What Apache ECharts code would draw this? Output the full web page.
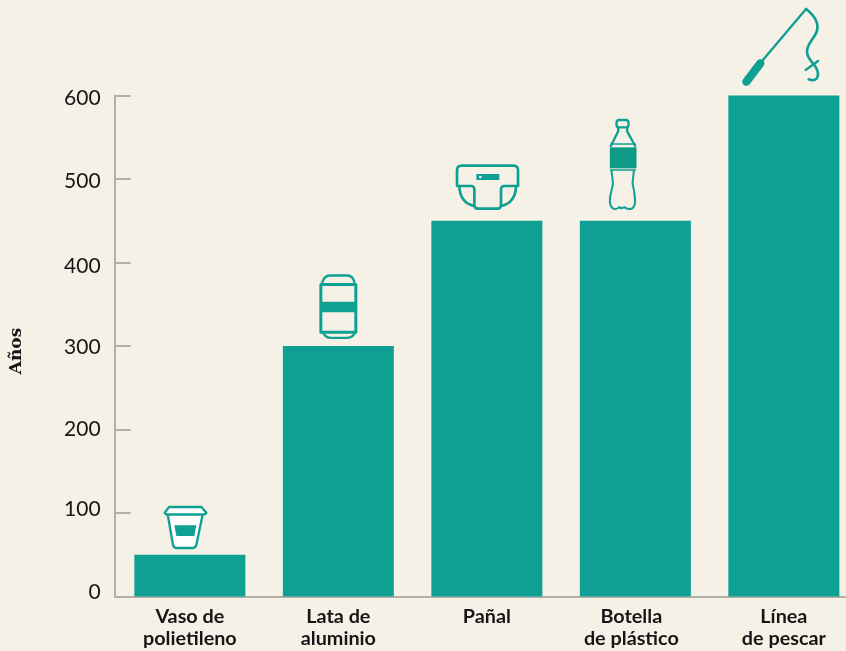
<!DOCTYPE html>
<html>
<head>
<meta charset="utf-8">
<style>html,body{margin:0;padding:0;background:#f5f1e7}#c{width:846px;height:651px}</style>
<script src="https://cdn.jsdelivr.net/npm/echarts@6/dist/echarts.min.js"></script>
</head>
<body>
<div id="c"></div>
<script>
const categories = ['Vaso de\npolietileno', 'Lata de\naluminio', 'Pañal', 'Botella\nde plástico', 'Línea\nde pescar'];
const years = [50, 300, 450, 450, 600];
const yTicks = [0, 100, 200, 300, 400, 500, 600];
// Vertical nudge of each tick number from its tick, in px
const yTickNudge = [-4.7, -3.3, 0, 1.7, 3.7, 2.7, 2.3];

const TEAL = '#0fa094';
const PAPER = '#f5f1e7';
const AXIS = '#b3b0a7';
const INK = '#161616';

// Pictograms sit on top of each bar. Paths are in 3x units; `at` shifts them from the bar-top centre.
function stroked(d, w, fill, cap) {
  return {
    type: 'path',
    shape: { pathData: d },
    style: { fill: fill || 'none', stroke: TEAL, lineWidth: w, lineCap: cap || 'round', lineJoin: 'round' }
  };
}
function filled(d, color) {
  return { type: 'path', shape: { pathData: d }, style: { fill: color || TEAL, stroke: 'none' } };
}

const icons = [
  { // cup
    at: [-59.5, -59.75],
    parts: [
      stroked('M112,58 L128,150 Q130,159 140,159 L186,159 Q196,159 198,150 L217,58 Z', 7, '#ffffff'),
      stroked('M103,53 L116,36 L213,36 L228,53 L224,58 L107,58 Z', 7, '#ffffff'),
      filled('M132,91 L198,91 L192,123 L138,123 Z')
    ]
  },
  { // can
    at: [-38.5, -81.5],
    parts: [
      stroked('M66,58 Q72,33 90,33 L143,33 Q160,33 165,58', 7, null),
      stroked('M70,205 Q78,220 92,220 L143,220 Q158,220 165,205', 7, null),
      stroked('M63,60 L168,60 L168,203 L63,203 Z', 9, null, 'butt'),
      filled('M63,112 L168,112 L168,143 L63,143 Z')
    ]
  },
  { // diaper
    at: [-46.5, -110.75],
    parts: [
      stroked('M50,228 L50,181 Q50,167 64,167 L219,167 Q233,167 233,181 L233,228', 8, null),
      stroked('M57,228 L92,228 Q102,228 102,238 L102,285 Q102,296 113,296 L171,296 Q182,296 182,285 L182,238 Q182,228 192,228 L227,228', 8, null),
      stroked('M57,228 Q58,278 102,288', 8, null),
      stroked('M227,228 Q226,278 182,288', 8, null),
      filled('M108,192 L177,192 L177,210 L108,210 Z'),
      { type: 'circle', shape: { cx: 120, cy: 201, r: 4 }, style: { fill: '#ffffff' } }
    ]
  },
  { // bottle
    at: [-195.5, -110.75],
    parts: [
      stroked('M538,30 L558,30 Q566,30 566,38 L566,45 Q566,52 558,52 L538,52 Q530,52 530,45 L530,38 Q530,30 538,30 Z', 7, null),
      stroked('M535,52 L535,64 L513,108', 7, null),
      stroked('M562,52 L562,64 L586,108', 7, null),
      stroked('M513,102 L586,102', 5, null),
      filled('M510,112 L590,112 L590,175 L510,175 Z', '#0d9a86'),
      stroked('M512,180 L586,180', 5, null),
      stroked('M515,182 L519,215 Q520,225 514,245 Q508,270 511,282 Q515,297 526,297 Q534,297 538,291 Q545,298 553,291 Q560,298 572,297 Q585,295 586,272 Q584,245 578,220 L582,182', 6, null)
    ]
  },
  { // fishing rod
    at: [-63.5, -95.5],
    parts: [
      stroked('M78,245 L120,190', 25, null),
      stroked('M122,187 L257,27', 7, null),
      stroked('M257,27 C280,45 297,65 290,92 C284,115 258,130 260,157 C262,178 278,186 287,203 C299,225 292,248 265,238', 8, null),
      stroked('M256,210 L293,183', 7, null)
    ]
  }
];

function renderIcon(params, api) {
  const icon = icons[params.dataIndex];
  const p = api.coord([api.value(0), api.value(1)]);
  return {
    type: 'group',
    x: p[0] + icon.at[0],
    y: p[1] + icon.at[1],
    scaleX: 1 / 3,
    scaleY: 1 / 3,
    silent: true,
    children: icon.parts
  };
}

// Wraps each line of a category label; the bottle's label sits a little left of its bar.
function categoryLabel(text) {
  const tag = text.startsWith('Botella') ? 'shifted' : 'plain';
  return text.split('\n').map(l => `{${tag}|${l}}`).join('\n');
}
const labelFont = { fontFamily: 'Lato', fontWeight: 'bold', fontSize: 19.8, lineHeight: 22, color: INK };

// One rich style per tick number: padding on one side moves the number off the tick's centre line
const tickFont = { fontFamily: 'Lato', fontSize: 21, lineHeight: 24, color: INK };
const tickRich = {};
yTicks.forEach((t, i) => {
  const n = yTickNudge[i] * 2;
  tickRich['t' + t] = { ...tickFont, padding: n >= 0 ? [n, 0, 0, 0] : [0, 0, -n, 0] };
});

const chart = echarts.init(document.getElementById('c'), null, { renderer: 'canvas' });
chart.setOption({
  animation: false,
  backgroundColor: PAPER,
  grid: { left: 115.6, top: 95.5, width: 742.5, height: 501, outerBoundsMode: 'none' },
  xAxis: {
    type: 'category',
    data: categories,
    axisTick: { show: false },
    axisLine: { lineStyle: { color: AXIS, width: 2 } },
    axisLabel: {
      interval: 0,
      margin: 9,
      verticalAlign: 'top',
      ...labelFont,
      formatter: categoryLabel,
      rich: {
        plain: { ...labelFont },
        shifted: { ...labelFont, padding: [0, 8, 0, 0] }
      }
    }
  },
  yAxis: {
    type: 'value',
    min: yTicks[0],
    max: yTicks[yTicks.length - 1],
    interval: yTicks[1] - yTicks[0],
    offset: 1,
    name: 'Años',
    nameLocation: 'middle',
    nameRotate: 90,
    nameGap: 90,
    nameTextStyle: {
      fontFamily: 'DejaVu Serif',
      fontWeight: 'bold',
      fontSize: 17,
      color: INK,
      padding: [0, 10, 0, 0]
    },
    splitLine: { show: false },
    axisLine: { show: true, lineStyle: { color: AXIS, width: 2 } },
    axisTick: { show: true, inside: true, length: 16, lineStyle: { color: AXIS, width: 2 } },
    axisLabel: {
      margin: 14,
      ...tickFont,
      formatter: v => `{t${v}|${v}}`,
      rich: tickRich
    }
  },
  series: [
    {
      type: 'bar',
      data: years,
      barWidth: 111,
      itemStyle: { color: TEAL },
      silent: true
    },
    {
      type: 'custom',
      clip: false,
      silent: true,
      z: 5,
      data: years.map((v, i) => [i, v]),
      encode: { x: 0, y: 1 },
      renderItem: renderIcon
    }
  ]
});
</script>
</body>
</html>
